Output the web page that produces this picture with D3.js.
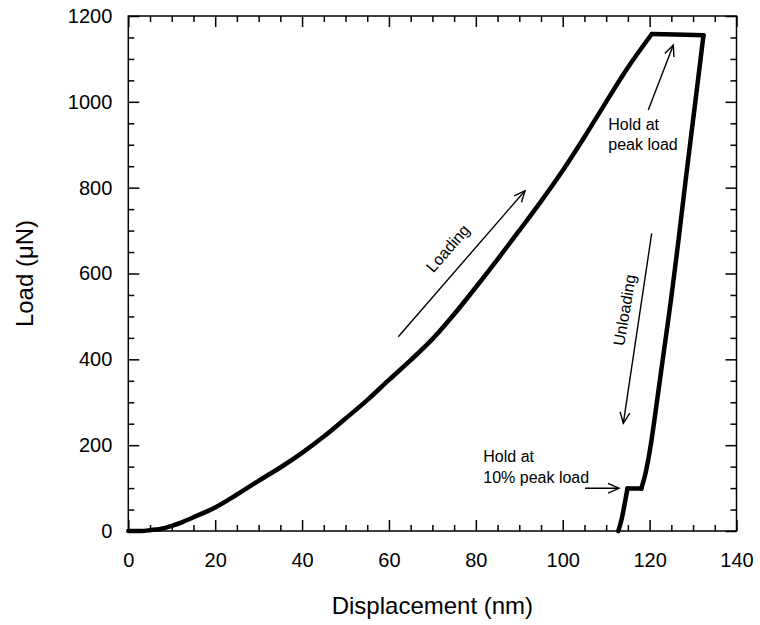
<!DOCTYPE html>
<html><head><meta charset="utf-8">
<script src="https://cdn.jsdelivr.net/npm/d3@7"></script>
<style>body{margin:0;background:#fff}svg{display:block}text{font-family:"Liberation Sans",Arial,sans-serif;fill:#000}</style>
</head><body><svg id="c" width="760" height="625"></svg>
<script>
// ---- data (displacement nm, load µN) ----
const loadingX = [0, 3, 5, 8, 10, 12, 15, 20, 25, 30, 35, 40, 45, 50, 55, 60, 65, 70, 75, 80, 85, 90, 95, 100, 105, 110, 115, 120.5];
const loadingY = [0, 0, 2, 6, 12, 19, 32, 55, 85, 117, 148, 182, 220, 262, 305, 352, 398, 447, 505, 568, 633, 700, 768, 840, 918, 1000, 1080, 1158];
const holdPeakX = [120.5, 126, 132.4];
const holdPeakY = [1158, 1157, 1155];
const unloadX = [132.4, 130.4, 128.3, 126.5, 124.8, 123, 121.4, 120.1, 119, 118.1];
const unloadY = [1155, 990, 818, 665, 530, 398, 280, 190, 132, 99];
const holdLowX = [118.1, 114.9];
const holdLowY = [99, 99];
const finalX = [114.9, 114.2, 113.5, 112.8];
const finalY = [99, 60, 25, 0];
const xTicks = [0, 20, 40, 60, 80, 100, 120, 140];
const yTicks = [0, 200, 400, 600, 800, 1000, 1200];

const svg = d3.select("#c");
const L = 128.3, T = 16, W = 608.2, H = 515;
const x = d3.scaleLinear().domain([0, 140]).range([L, L + W]);
const y = d3.scaleLinear().domain([0, 1200]).range([T + H, T]);
const xMinor = d3.range(0, 141, 5).filter(v => v % 20);
const yMinor = d3.range(0, 1201, 50).filter(v => v % 200);
const fmt = d3.format("d");

function styleAxis(g){ g.select(".domain").remove(); g.selectAll("line").attr("stroke","#000").attr("stroke-width",1.5); }
// bottom
svg.append("g").attr("transform",`translate(0,${T+H})`).call(d3.axisBottom(x).tickValues(xTicks).tickFormat(fmt).tickSizeInner(-11).tickSizeOuter(0).tickPadding(22))
  .call(styleAxis).call(g=>g.selectAll("text").attr("font-size",20).attr("font-family","Liberation Sans, Arial, sans-serif"));
svg.append("g").attr("transform",`translate(0,${T+H})`).call(d3.axisBottom(x).tickValues(xMinor).tickSize(-6).tickFormat(""))
  .call(styleAxis);
// top
svg.append("g").attr("transform",`translate(0,${T})`).call(d3.axisTop(x).tickValues(xTicks).tickSize(-11).tickFormat("")).call(styleAxis);
svg.append("g").attr("transform",`translate(0,${T})`).call(d3.axisTop(x).tickValues(xMinor).tickSize(-6).tickFormat("")).call(styleAxis);
// left
svg.append("g").attr("transform",`translate(${L},0)`).call(d3.axisLeft(y).tickValues(yTicks).tickFormat(fmt).tickSizeInner(-11).tickSizeOuter(0).tickPadding(16))
  .call(styleAxis).call(g=>g.selectAll("text").attr("font-size",20).attr("font-family","Liberation Sans, Arial, sans-serif"));
svg.append("g").attr("transform",`translate(${L},0)`).call(d3.axisLeft(y).tickValues(yMinor).tickSize(-6).tickFormat("")).call(styleAxis);
// right
svg.append("g").attr("transform",`translate(${L+W},0)`).call(d3.axisRight(y).tickValues(yTicks).tickSize(-11).tickFormat("")).call(styleAxis);
svg.append("g").attr("transform",`translate(${L+W},0)`).call(d3.axisRight(y).tickValues(yMinor).tickSize(-6).tickFormat("")).call(styleAxis);
// frame
svg.append("rect").attr("x",L).attr("y",T).attr("width",W).attr("height",H).attr("fill","none").attr("stroke","#000").attr("stroke-width",1.5);

// curve
const smooth = d3.line().x(d=>x(d[0])).y(d=>y(d[1])).curve(d3.curveCatmullRom.alpha(0.5));
const straight = d3.line().x(d=>x(d[0])).y(d=>y(d[1]));
const zipP = (a,b)=>a.map((v,i)=>[v,b[i]]);
function stroke(d){ svg.append("path").attr("d",d).attr("fill","none").attr("stroke","#000").attr("stroke-width",4.5).attr("stroke-linejoin","round").attr("stroke-linecap","round"); }
stroke(smooth(zipP(loadingX,loadingY)));
stroke(straight(zipP(holdPeakX,holdPeakY)));
stroke(smooth(zipP(unloadX,unloadY)));
stroke(straight(zipP(holdLowX,holdLowY)));
stroke(smooth(zipP(finalX,finalY)));

// arrows
function arrow(x1,y1,x2,y2){
  const g = svg.append("g").attr("stroke","#000").attr("stroke-width",1.4).attr("fill","none");
  g.append("line").attr("x1",x1).attr("y1",y1).attr("x2",x2).attr("y2",y2);
  const a = Math.atan2(y2-y1,x2-x1), len = 12, sp = 0.42;
  g.append("path").attr("d",`M${x2-len*Math.cos(a-sp)},${y2-len*Math.sin(a-sp)}L${x2},${y2}L${x2-len*Math.cos(a+sp)},${y2-len*Math.sin(a+sp)}`);
}
arrow(398.3,336.7,525,190.7);
arrow(651.7,233.3,623.3,423.3);
arrow(648.3,110,673.3,45);
arrow(585,488.3,619,488.3);

// annotation text
function txt(s,xx,yy,rot,anchor){
  svg.append("text").attr("transform",`translate(${xx},${yy}) rotate(${rot||0})`).attr("text-anchor",anchor||"start").attr("font-size",16).text(s);
}
txt("Loading",452,252,-49,"middle");
txt("Unloading",630,311,-80.5,"middle");
txt("Hold at",608.3,129.5);
txt("peak load",608.3,149.5);
txt("Hold at",483.3,461.5);
txt("10% peak load",483.3,482.5);

// axis titles
svg.append("text").attr("x",L+W/2).attr("y",614).attr("text-anchor","middle").attr("font-size",24).text("Displacement (nm)");
svg.append("text").attr("transform",`translate(33,${T+H/2}) rotate(-90)`).attr("text-anchor","middle").attr("font-size",24).text("Load (\u03bcN)");
</script></body></html>
